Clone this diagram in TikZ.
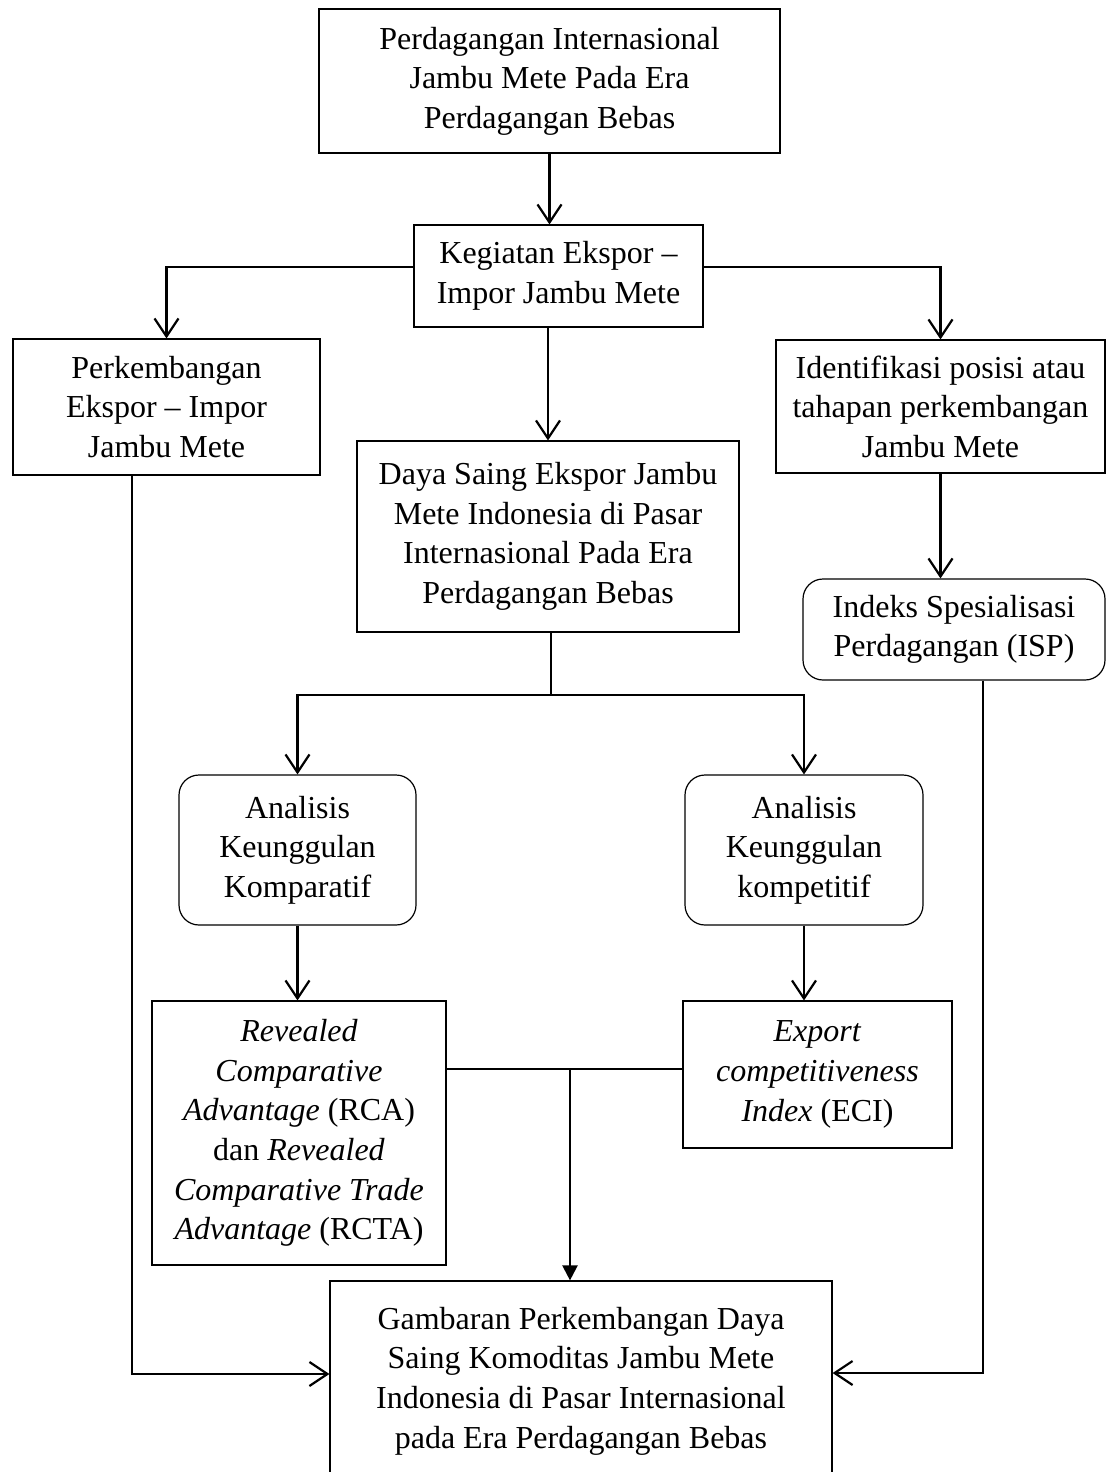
\documentclass[tikz,border=0pt]{standalone}
\usepackage{fontspec}
\setmainfont{Liberation Serif}
\usetikzlibrary{arrows.meta}
\begin{document}
\begin{tikzpicture}[x=0.5pt, y=-0.5pt]
        \tikzstyle{box}=[rectangle, draw=black, line width=0.6pt, align=center, inner sep=0pt, font=\fontsize{16}{19.8}\selectfont]
        \tikzstyle{round-box}=[box, rounded corners=10pt]
        \tikzstyle{flow}=[-{Straight Barb[length=9pt, width=12pt]}, line width=1.1pt]
        \tikzstyle{flow-fill}=[-{Triangle[length=7.5pt, width=7.5pt]}, line width=1.1pt]
        \tikzstyle{plain}=[line width=0.8pt]
        \useasboundingbox (0, 0) rectangle (1117, 1472);

        \node[box, minimum width=230.5pt, minimum height=72pt] (dagang) at (549.5, 81) {Perdagangan Internasional\\Jambu Mete Pada Era\\Perdagangan Bebas};
        \node[box, minimum width=144.5pt, minimum height=51pt] (kegiatan) at (558.5, 276) {Kegiatan Ekspor --\\Impor Jambu Mete};
        \node[box, minimum width=153.5pt, minimum height=68pt] (perk) at (166.5, 407) {Perkembangan\\Ekspor -- Impor\\Jambu Mete};
        \node[box, minimum width=164.5pt, minimum height=66.5pt] (ident) at (940.5, 406.5) {Identifikasi posisi atau\\tahapan perkembangan\\Jambu Mete};
        \node[box, minimum width=191pt, minimum height=95.5pt] (daya) at (548, 536.5) {Daya Saing Ekspor Jambu\\Mete Indonesia di Pasar\\Internasional Pada Era\\Perdagangan Bebas};
        \node[round-box, minimum width=151pt, minimum height=50.5pt] (isp) at (954, 629.5) {Indeks Spesialisasi\\Perdagangan (ISP)};
        \node[round-box, minimum width=118.5pt, minimum height=75pt] (komp) at (297.5, 850) {Analisis\\Keunggulan\\Komparatif};
        \node[round-box, minimum width=119pt, minimum height=75pt] (kompet) at (804, 850) {Analisis\\Keunggulan\\kompetitif};
        \node[box, minimum width=147pt, minimum height=132pt] (rca) at (299, 1133) {\textit{Revealed}\\\textit{Comparative}\\\textit{Advantage} (RCA)\\dan \textit{Revealed}\\\textit{Comparative Trade}\\\textit{Advantage} (RCTA)};
        \node[box, minimum width=134.5pt, minimum height=73.5pt] (eci) at (817.5, 1074.5) {\textit{Export}\\\textit{competitiveness}\\\textit{Index} (ECI)};
        \node[box, minimum width=251pt, minimum height=100pt] (gamb) at (581, 1381) {Gambaran Perkembangan Daya\\Saing Komoditas Jambu Mete\\Indonesia di Pasar Internasional\\pada Era Perdagangan Bebas};

        % turning points
        \coordinate (split) at (551, 695);
        \coordinate (join) at (570, 1069);
        \coordinate (left-turn) at (132, 1374);
        \coordinate (right-turn) at (983, 1373);

        \draw[flow] (dagang.south) -- (dagang.south |- kegiatan.north);
        \draw[flow] ([yshift=4.5pt]kegiatan.west) -| (perk.north);
        \draw[flow] ([yshift=4.5pt]kegiatan.east) -| (ident.north);
        \draw[flow] (daya.north |- kegiatan.south) -- (daya.north);
        \draw[flow] (ident.south) -- (ident.south |- isp.north);
        \draw[plain] (split |- daya.south) -- (split);
        \draw[flow] (split) -| (komp.north);
        \draw[flow] (split) -| (kompet.north);
        \draw[flow] (komp.south) -- (komp.south |- rca.north);
        \draw[flow] (kompet.south) -- (kompet.south |- eci.north);
        \draw[plain] (join -| rca.east) -- (join -| eci.west);
        \draw[flow-fill] (join) -- (join |- gamb.north);
        \draw[flow] (left-turn |- perk.south) -- (left-turn) -- (left-turn -| gamb.west);
        \draw[flow] (right-turn |- isp.south) -- (right-turn) -- (right-turn -| gamb.east);
\end{tikzpicture}
\end{document}
